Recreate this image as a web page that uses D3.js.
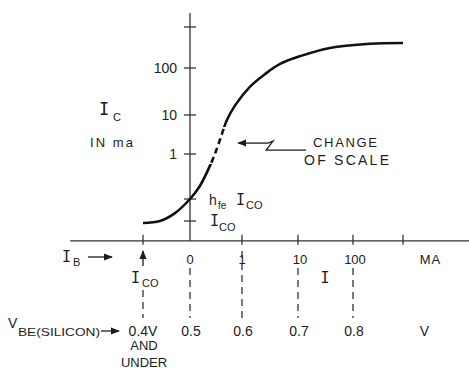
<!DOCTYPE html>
<html><head><meta charset="utf-8">
<script src="https://cdn.jsdelivr.net/npm/d3@7"></script>
<style>
body{margin:0;background:#fff}
text{font-family:"Liberation Sans",Arial,sans-serif;fill:#1c1c1c}
.ser{font-family:"DejaVu Sans Mono","Liberation Mono",monospace}
</style>
</head><body><svg id="c" width="469" height="376"></svg>
<script>
// V_BE (silicon) ticks along the horizontal axis
const vbeTicks = [0.4, 0.5, 0.6, 0.7, 0.8, 0.9];
const vbeLabels = ["0.4V", "0.5", "0.6", "0.7", "0.8"];
// I_B (ma) labels at the same positions
const ibLabels = ["", "0", "1", "10", "100"];
// I_C levels on vertical axis (0 = I_CO, 1 = hfe*I_CO, 2 = 1 ma, 3 = 10, 4 = 100, 5 = 1000)
const icLevels = [0, 1, 2, 3, 4, 5];
const icLabels = ["", "", "1", "10", "100", ""];
// Curve: [V_BE, I_C level]
const curve = [[0.4,-0.09],[0.436,0.0],[0.468,0.36],[0.5,1.0],[0.519,1.29],[0.540,1.78],
  [0.552,2.15],[0.562,2.54],[0.571,2.87],[0.587,3.21],[0.614,3.60],
  [0.641,3.87],[0.668,4.10],[0.704,4.29],[0.758,4.49],[0.834,4.59],[0.9,4.61]];
// Dashed (change of scale) region in I_C levels
const dashedRange = [1.78, 2.69];
const scaleChangeArrow = [0.581, 2.28];

const svg = d3.select("#c");
const x = d3.scaleLinear().domain(vbeTicks).range([143, 190, 242, 298, 353, 403]);
const y = d3.scaleLinear().domain(icLevels).range([221, 199, 154, 115, 68, 27]);
const ink = "#1c1c1c";
const axY = y(-0.9); // x axis position (≈242)

const defs = svg.append("defs");
defs.append("marker").attr("id","ah").attr("viewBox","0 0 10 10").attr("refX",9).attr("refY",5)
  .attr("markerWidth",7).attr("markerHeight",7).attr("orient","auto-start-reverse")
  .append("path").attr("d","M0,1 L10,5 L0,9 z").attr("fill",ink);

// axes lines
svg.append("line").attr("x1", x(0.245)).attr("x2", 469).attr("y1", axY).attr("y2", axY)
  .attr("stroke","#333").attr("stroke-width",1.3);
svg.append("line").attr("x1", x(0.5)).attr("x2", x(0.5)).attr("y1", y(5.34)).attr("y2", axY)
  .attr("stroke","#333").attr("stroke-width",1.3);

// y ticks
svg.selectAll(".yt").data(icLevels).join("line")
  .attr("x1", x(0.5)-6).attr("x2", x(0.5)+6).attr("y1", d=>y(d)).attr("y2", d=>y(d))
  .attr("stroke","#333").attr("stroke-width",1.3);
svg.selectAll(".yl").data(icLevels.filter((d,i)=>icLabels[i])).join("text")
  .attr("x", 177).attr("y", d=>y(d)+5).attr("text-anchor","end").attr("font-size",14)
  .text(d=>icLabels[icLevels.indexOf(d)]);

// x ticks
svg.selectAll(".xt").data(vbeTicks.filter(d=>d!==0.5)).join("line")
  .attr("x1", d=>x(d)).attr("x2", d=>x(d)).attr("y1", axY-6).attr("y2", axY+4)
  .attr("stroke","#333").attr("stroke-width",1.3);
svg.selectAll(".ibl").data(vbeTicks.slice(0,5)).join("text")
  .attr("x", (d,i)=>x(d)+(i>2?2:0)).attr("y", 264).attr("text-anchor","middle").attr("font-size",13)
  .text((d,i)=>ibLabels[i]);
svg.append("text").attr("x", x(0.955)).attr("y", 264).attr("text-anchor","middle").attr("font-size",13)
  .attr("letter-spacing",1).text("MA");
svg.append("text").attr("class","ser").attr("x", 325).attr("y", 283).attr("text-anchor","middle").attr("font-size",15).text("I");

// dashed verticals
const dashTop = [290, 268, 251, 268, 268];
svg.selectAll(".dv").data(vbeTicks.slice(0,5)).join("line")
  .attr("x1", d=>x(d)).attr("x2", d=>x(d)).attr("y1", (d,i)=>dashTop[i]).attr("y2", 318)
  .attr("stroke","#333").attr("stroke-width",1.3).attr("stroke-dasharray","7,5");

// V_BE labels
svg.selectAll(".vl").data(vbeTicks.slice(0,5)).join("text")
  .attr("x", (d,i)=>x(d)+(i===0?0:1)).attr("y", 336).attr("text-anchor","middle").attr("font-size",14)
  .text((d,i)=>vbeLabels[i]);
svg.append("text").attr("x", x(0.943)).attr("y", 336).attr("text-anchor","middle").attr("font-size",14).text("V");
svg.append("text").attr("x", x(0.4)+1).attr("y", 350).attr("text-anchor","middle").attr("font-size",13).text("AND");
svg.append("text").attr("x", x(0.4)+1).attr("y", 367).attr("text-anchor","middle").attr("font-size",13).text("UNDER");

// V_BE(SILICON) label + arrow
svg.append("text").attr("x", 8).attr("y", 328).attr("font-size",14).text("V");
svg.append("text").attr("x", 18).attr("y", 336).attr("font-size",11).attr("textLength",82).attr("lengthAdjust","spacingAndGlyphs").text("BE(SILICON)");
svg.append("line").attr("x1",101).attr("x2",119).attr("y1",331).attr("y2",331)
  .attr("stroke",ink).attr("stroke-width",1.3).attr("marker-end","url(#ah)");

// I_B label + arrow
svg.append("text").attr("class","ser").attr("x", 62).attr("y", 262).attr("font-size",15).text("I");
svg.append("text").attr("x", 73).attr("y", 266).attr("font-size",11).text("B");
svg.append("line").attr("x1",88).attr("x2",112).attr("y1",257).attr("y2",257)
  .attr("stroke",ink).attr("stroke-width",1.3).attr("marker-end","url(#ah)");

// up arrow at I_CO
svg.append("line").attr("x1",x(0.4)).attr("x2",x(0.4)).attr("y1",266).attr("y2",251)
  .attr("stroke",ink).attr("stroke-width",1.3).attr("marker-end","url(#ah)");
svg.append("text").attr("class","ser").attr("x", 131).attr("y", 283).attr("font-size",15).text("I");
svg.append("text").attr("x", 142).attr("y", 287).attr("font-size",11).text("CO");

// hfe I_CO and I_CO labels
svg.append("text").attr("x", 209).attr("y", 205).attr("font-size",14).text("h");
svg.append("text").attr("x", 218).attr("y", 209).attr("font-size",10).text("fe");
svg.append("text").attr("class","ser").attr("x", 236).attr("y", 205).attr("font-size",15).text("I");
svg.append("text").attr("x", 246).attr("y", 209).attr("font-size",11).text("CO");
svg.append("text").attr("class","ser").attr("x", 210).attr("y", 226).attr("font-size",15).text("I");
svg.append("text").attr("x", 219).attr("y", 231).attr("font-size",11).text("CO");

// I_C IN ma
svg.append("text").attr("class","ser").attr("x", 99).attr("y", 115).attr("font-size",17).text("I");
svg.append("text").attr("x", 113).attr("y", 121).attr("font-size",11).text("C");
svg.append("text").attr("x", 90).attr("y", 147).attr("font-size",13).attr("textLength",43).attr("lengthAdjust","spacing").text("IN ma");

// curve
const line = d3.line().x(d=>x(d[0])).y(d=>y(d[1])).curve(d3.curveCatmullRom.alpha(0.5));
const yA = y(dashedRange[1]), yB = y(dashedRange[0]);
const cpS = defs.append("clipPath").attr("id","solid");
cpS.append("rect").attr("x",0).attr("y",0).attr("width",469).attr("height",yA);
cpS.append("rect").attr("x",0).attr("y",yB).attr("width",469).attr("height",376-yB);
defs.append("clipPath").attr("id","dash").append("rect").attr("x",0).attr("y",yA).attr("width",469).attr("height",yB-yA);
svg.append("path").attr("d", line(curve)).attr("fill","none").attr("stroke","#111")
  .attr("stroke-width",2.6).attr("clip-path","url(#solid)");
svg.append("path").attr("d", line(curve)).attr("fill","none").attr("stroke","#111")
  .attr("stroke-width",2.6).attr("stroke-dasharray","6,4").attr("stroke-dashoffset",3).attr("clip-path","url(#dash)");

// change of scale annotation
const ax0 = x(scaleChangeArrow[0]), ay0 = y(scaleChangeArrow[1]);
svg.append("path")
  .attr("d", `M${ax0+36},${ay0} L${ax0+6},${ay0}`)
  .attr("stroke",ink).attr("stroke-width",1.3).attr("fill","none").attr("marker-end","url(#ah)");
svg.append("path")
  .attr("d", `M${ax0+36},${ay0} L${ax0+41},${ay0-2} L${ax0+34},${ay0+7} L${ax0+74},${ay0+7}`)
  .attr("stroke",ink).attr("stroke-width",1.3).attr("fill","none");
svg.append("text").attr("x", 313).attr("y", 147).attr("font-size",13).attr("textLength",64).attr("lengthAdjust","spacing").text("CHANGE");
svg.append("text").attr("x", 304).attr("y", 165).attr("font-size",14).attr("textLength",85).attr("lengthAdjust","spacing").text("OF SCALE");
</script>
</body></html>
